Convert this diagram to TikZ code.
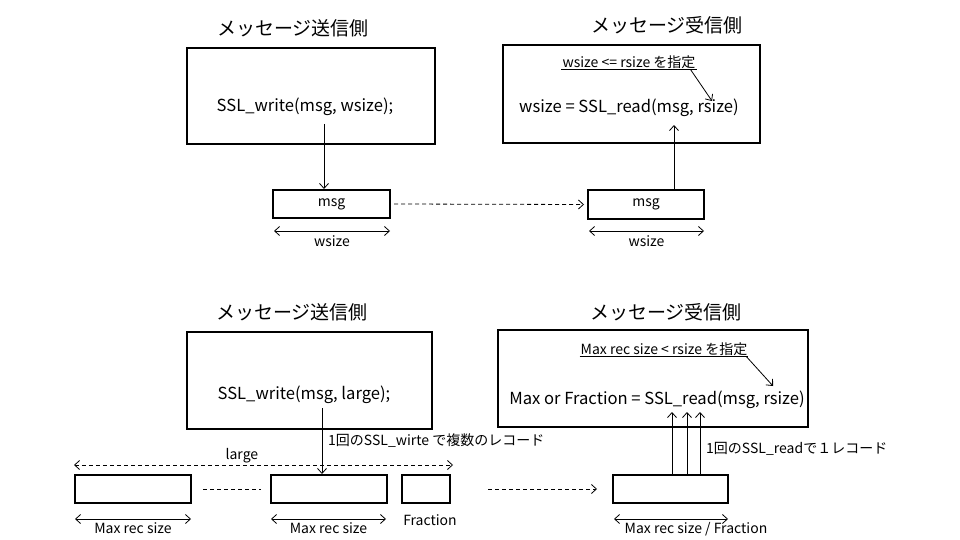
\documentclass[tikz,border=0pt]{standalone}
\usepackage{fontspec}
\setmainfont{Noto Sans CJK JP}
\usetikzlibrary{arrows.meta}
\usetikzlibrary{calc}

\tikzset{
	box/.style={draw, line width=2pt, inner sep=0pt},
	title/.style={font=\fontsize{19}{22}\selectfont},
	code/.style={font=\fontsize{16.6}{19}\selectfont, inner sep=1pt},
	small/.style={font=\fontsize{14}{16}\selectfont, inner sep=1pt},
	barb/.tip={Straight Barb[length=5pt,width=9pt]},
	arr/.style={line width=0.8pt, -barb},
	dimarr/.style={line width=0.8pt, barb-barb},
	dashline/.style={line width=0.9pt, dash pattern=on 4pt off 3pt},
}

\begin{document}
\begin{tikzpicture}[x=1pt, y=-1pt]
	\useasboundingbox (0,0) rectangle (960,540);
	
	% one record per write
	\node[title] (sendTitleA) at (293,28) {メッセージ送信側};
	\node[title] (recvTitleA) at (667,25) {メッセージ受信側};
	
	\node[box, minimum width=248pt, minimum height=96pt] (sendBoxA) at (311,96) {};
	\node[code] (writeA) at (305,107) {SSL\_write(msg, wsize);};
	\node[box, minimum width=257pt, minimum height=98pt] (recvBoxA) at (631.5,94) {};
	\node[small] (hintA) at (629,62) {wsize <= rsize を指定};
	\node[code] (readA) at (629,108) {wsize = SSL\_read(msg, rsize)};
	
	\node[box, minimum width=117pt, minimum height=28pt, small] (msgSendA) at (331.5,204) {msg};
	\node[box, minimum width=116pt, minimum height=29pt, small] (msgRecvA) at (646,204.5) {msg};
	
	\coordinate (wStartA) at (324,124);
	\coordinate (rEndA) at (674,125);
	\coordinate (hintEndA) at (712,101);
	
	\draw[line width=0.8pt] (hintA.south west) -- (hintA.south east);
	\draw[arr] ([xshift=-6pt]hintA.south east) -- (hintEndA);
	\draw[arr] (wStartA) -- (wStartA |- msgSendA.north);
	\draw[arr] (msgRecvA.north -| rEndA) -- (rEndA);
	\draw[dashline, arr] ([xshift=3pt]msgSendA.east) -- ([xshift=-3pt]msgRecvA.west);
	
	\draw[dimarr] ($(msgSendA.south west)+(2,12)$) -- ($(msgSendA.south east)+(-1,12)$) node[small, midway, below=3pt] (wsizeSendA) {wsize};
	\draw[dimarr] ($(msgRecvA.south west)+(2,11)$) -- ($(msgRecvA.south east)+(-1,11)$) node[small, midway, below=3pt] (wsizeRecvA) {wsize};
	
	% several records per write
	\node[title] (sendTitleB) at (292,312) {メッセージ送信側};
	\node[title] (recvTitleB) at (666,312) {メッセージ受信側};
	
	\node[box, minimum width=245pt, minimum height=97pt] (sendBoxB) at (309.5,380.5) {};
	\node[code] (writeB) at (304,395) {SSL\_write(msg, large);};
	\node[box, minimum width=310pt, minimum height=97pt] (recvBoxB) at (653,378.5) {};
	\node[small] (hintB) at (664,349) {Max rec size < rsize を指定};
	\node[code] (readB) at (657,400) {Max or Fraction = SSL\_read(msg, rsize)};
	
	\node[box, minimum width=116pt, minimum height=28pt] (recB1) at (133,489) {};
	\node[box, minimum width=116pt, minimum height=28pt] (recB2) at (329,489) {};
	\node[box, minimum width=48pt, minimum height=28pt] (fracB) at (426,489) {};
	\node[box, minimum width=115pt, minimum height=28pt] (recvRecB) at (670.5,489) {};
	
	\node[small, anchor=west] (noteWriteB) at (327,441) {1回のSSL\_wirte で複数のレコード};
	\node[small, anchor=west] (noteReadB) at (705,449) {1回のSSL\_readで１レコード};
	\node[small] (fracLabelB) at (430,520) {Fraction};
	
	\coordinate (wStartB) at (322,408);
	\coordinate (hintEndB) at (773,386);
	
	\draw[line width=0.8pt] (hintB.south west) -- (hintB.south east);
	\draw[arr] ([xshift=-2pt]hintB.south east) -- (hintEndB);
	\draw[arr] (wStartB) -- (wStartB |- recB2.north);
	\foreach \x [count=\i] in {672,687,700} {
		\coordinate (upB\i) at (\x,412);
		\draw[arr] (recvRecB.north -| upB\i) -- (upB\i);
	}
	
	\draw[dashline, dimarr] ($(recB1.north west)+(0,-9)$) -- ($(fracB.north east)+(2,-9)$) node[small, pos=0.443, above=1pt] (largeB) {large};
	\draw[dashline] ([xshift=11pt]recB1.east) -- ([xshift=-9pt]recB2.west);
	\draw[dashline, arr] ([xshift=37pt]fracB.east) -- ([xshift=-15pt]recvRecB.west);
	
	\draw[dimarr] ($(recB1.south west)+(1,15)$) -- ($(recB1.south east)+(-1,15)$) node[small, midway, below=2pt] (maxLabelB1) {Max rec size};
	\draw[dimarr] ($(recB2.south west)+(1,15)$) -- ($(recB2.south east)+(-2,15)$) node[small, midway, below=2pt] (maxLabelB2) {Max rec size};
	\draw[dimarr] ($(recvRecB.south west)+(2,15)$) -- ($(recvRecB.south east)+(-1,15)$) node[small, midway, below=2pt, xshift=25pt] (recvLabelB) {Max rec size / Fraction};
\end{tikzpicture}
\end{document}
